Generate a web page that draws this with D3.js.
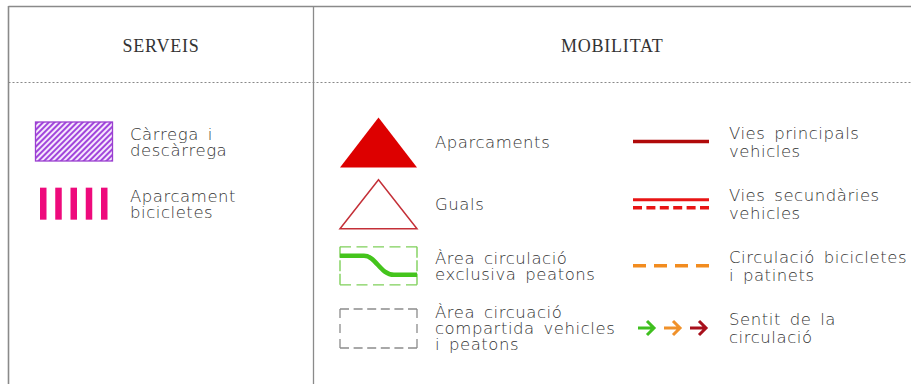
<!DOCTYPE html>
<html><head><meta charset="utf-8">
<script src="https://cdn.jsdelivr.net/npm/d3@7"></script>
<style>
html,body{margin:0;padding:0;background:#fff;}
svg{display:block;}
.lbl{font-family:"DejaVu Sans",sans-serif;font-weight:200;font-size:16.5px;fill:#333;letter-spacing:0.55px;word-spacing:3px;}
.hdr{font-family:"Liberation Serif",serif;font-size:18px;fill:#333;letter-spacing:0.8px;}
</style></head>
<body>
<script>
// ---- data ----
const sections = ["SERVEIS", "MOBILITAT"];
const serveisLabels = [["Càrrega i", "descàrrega"], ["Aparcament", "bicicletes"]];
const serveisSymbols = ["hatch", "bars"];
const mobLeftLabels = [["Aparcaments"], ["Guals"], ["Àrea circulació", "exclusiva peatons"], ["Àrea circuació", "compartida vehicles", "i peatons"]];
const mobLeftSymbols = ["triFill", "triOutline", "greenArea", "grayArea"];
const mobRightLabels = [["Vies principals", "vehicles"], ["Vies secundàries", "vehicles"], ["Circulació bicicletes", "i patinets"], ["Sentit de la", "circulació"]];
const mobRightSymbols = ["mainRoad", "secRoad", "bikeLane", "arrows"];
const arrowColors = ["#3fbf1f", "#f0912a", "#a8101c"];

const W = 911, H = 384;
const svg = d3.select("body").append("svg").attr("width", W).attr("height", H);

const defs = svg.append("defs");
const pat = defs.append("pattern").attr("id", "hatch").attr("patternUnits", "userSpaceOnUse")
  .attr("width", 4).attr("height", 4).attr("patternTransform", "rotate(45)");
pat.append("rect").attr("width", 4).attr("height", 4).attr("fill", "#f6e8fc");
pat.append("line").attr("x1", 1).attr("y1", 0).attr("x2", 1).attr("y2", 4).attr("stroke", "#9d3ddb").attr("stroke-width", 1.9);

// ---- frame ----
const divX = 313.5;
const g = svg.append("g");
g.append("line").attr("x1", 8.5).attr("x2", W).attr("y1", 6.5).attr("y2", 6.5).attr("stroke", "#8a8a8a").attr("stroke-width", 1.6);
g.append("line").attr("x1", 8.5).attr("x2", 8.5).attr("y1", 6).attr("y2", H).attr("stroke", "#8a8a8a").attr("stroke-width", 1.6);
g.append("line").attr("x1", divX).attr("x2", divX).attr("y1", 6).attr("y2", H).attr("stroke", "#8a8a8a").attr("stroke-width", 1.3);
g.append("line").attr("x1", 8.5).attr("x2", W).attr("y1", 82.5).attr("y2", 82.5).attr("stroke", "#888").attr("stroke-width", 1).attr("stroke-dasharray", "2,2");

const hdrX = [(8.5 + divX) / 2, (divX + W) / 2];
g.selectAll("text.hdr").data(sections).join("text").attr("class", "hdr")
  .attr("x", (d, i) => hdrX[i]).attr("y", 52).attr("text-anchor", "middle").text(d => d);

// ---- rows ----
const row = d3.scalePoint().domain(d3.range(4)).range([141.5, 328]);

function labels(list, x, lh) {
  list.forEach((lines, i) => {
    const cy = row(i);
    const t = svg.append("text").attr("class", "lbl").attr("x", x);
    const n = lines.length;
    lines.forEach((ln, j) => {
      t.append("tspan").attr("x", x).attr("y", cy + 6 + (j - (n - 1) / 2) * lh).text(ln);
    });
  });
}

// dashed rectangle with dashes anchored at corners
function cornerDashRect(sel, x, y, w, h, color, dash, nH, nV, sw) {
  const sides = [[x, y, x + w, y, w, nH], [x + w, y, x + w, y + h, h, nV], [x + w, y + h, x, y + h, w, nH], [x, y + h, x, y, h, nV]];
  sides.forEach(s => {
    const gap = (s[4] - s[5] * dash) / (s[5] - 1);
    sel.append("line").attr("x1", s[0]).attr("y1", s[1]).attr("x2", s[2]).attr("y2", s[3])
      .attr("stroke", color).attr("stroke-width", sw).attr("stroke-dasharray", dash + "," + gap);
  });
}

// ---- SERVEIS ----
const sx0 = 35, sx1 = 112;
serveisSymbols.forEach((s, i) => {
  const cy = row(i);
  if (s === "hatch") {
    svg.append("rect").attr("x", sx0 + 0.5).attr("y", cy - 19.5).attr("width", sx1 - sx0).attr("height", 39)
      .attr("fill", "url(#hatch)").attr("stroke", "#9a3fd0").attr("stroke-width", 1.3);
  } else {
    const bx = d3.scalePoint().domain(d3.range(5)).range([40, 101]);
    svg.selectAll("rect.bar").data(d3.range(5)).join("rect").attr("class", "bar")
      .attr("x", d => bx(d)).attr("y", cy - 16).attr("width", 6.5).attr("height", 32).attr("fill", "#ee0a7c");
  }
});
labels(serveisLabels, 130, 16);

// ---- MOBILITAT left ----
const mx0 = 340, mx1 = 417;
mobLeftSymbols.forEach((s, i) => {
  const cy = row(i);
  if (s === "triFill") {
    svg.append("path").attr("d", `M${mx0},${cy + 26}L${(mx0 + mx1) / 2},${cy - 24}L${mx1},${cy + 26}Z`).attr("fill", "#dd0000");
  } else if (s === "triOutline") {
    svg.append("path").attr("d", `M${mx0},${cy + 25}L${(mx0 + mx1) / 2},${cy - 24}L${mx1},${cy + 25}Z`)
      .attr("fill", "none").attr("stroke", "#c43038").attr("stroke-width", 1.5);
  } else if (s === "greenArea") {
    cornerDashRect(svg, mx0, cy - 19, mx1 - mx0, 38, "#7fd05a", 11, 5, 3, 1.4);
    svg.append("path").attr("d", `M${mx0},${cy - 10}L${mx0 + 24},${cy - 10}C${mx0 + 36},${cy - 10} ${mx0 + 40},${cy + 9} ${mx0 + 54},${cy + 9}L${mx1},${cy + 9}`)
      .attr("fill", "none").attr("stroke", "#44c41c").attr("stroke-width", 4.5);
  } else {
    cornerDashRect(svg, mx0, cy - 19, mx1 - mx0, 39, "#8c8c8c", 9, 6, 3, 1.3);
  }
});
labels(mobLeftLabels, 435, 16);

// ---- MOBILITAT right ----
const rx0 = 633, rx1 = 709;
mobRightSymbols.forEach((s, i) => {
  const cy = row(i);
  if (s === "mainRoad") {
    svg.append("line").attr("x1", rx0).attr("x2", rx1).attr("y1", cy).attr("y2", cy).attr("stroke", "#b00a0a").attr("stroke-width", 3.5);
  } else if (s === "secRoad") {
    svg.append("line").attr("x1", rx0).attr("x2", rx1).attr("y1", cy - 4).attr("y2", cy - 4).attr("stroke", "#e81414").attr("stroke-width", 3);
    svg.append("line").attr("x1", rx0).attr("x2", rx1).attr("y1", cy + 4).attr("y2", cy + 4).attr("stroke", "#e81414").attr("stroke-width", 3.5).attr("stroke-dasharray", "9,4.4");
  } else if (s === "bikeLane") {
    svg.append("line").attr("x1", rx0).attr("x2", rx1).attr("y1", cy).attr("y2", cy).attr("stroke", "#f28c1f").attr("stroke-width", 3.5).attr("stroke-dasharray", "13,8");
  } else {
    const ax = d3.scalePoint().domain(d3.range(3)).range([638, 690]);
    arrowColors.forEach((c, k) => {
      const x = ax(k);
      svg.append("path").attr("d", `M${x},${cy}L${x + 16},${cy}M${x + 9},${cy - 7}L${x + 16},${cy}L${x + 9},${cy + 7}`)
        .attr("fill", "none").attr("stroke", c).attr("stroke-width", 3);
    });
  }
});
labels(mobRightLabels, 729, 18);
</script>
</body></html>
